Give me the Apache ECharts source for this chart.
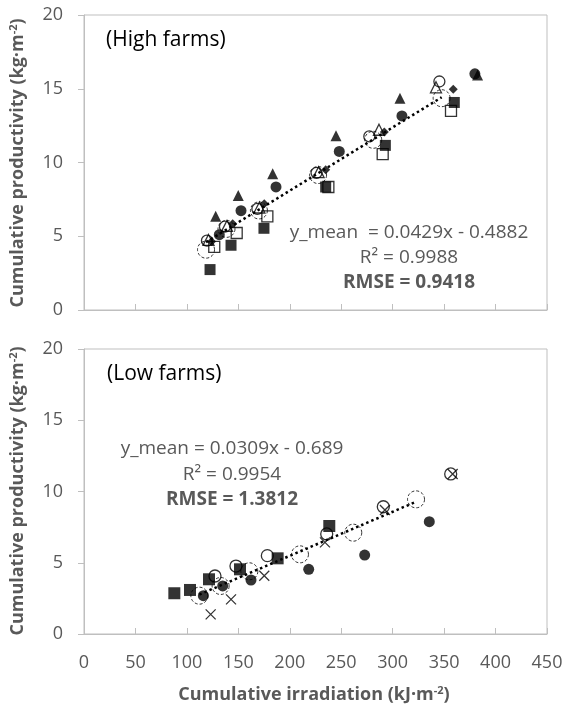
<!DOCTYPE html>
<html>
<head>
<meta charset="utf-8">
<title>Cumulative productivity vs irradiation</title>
<script src="https://cdn.jsdelivr.net/npm/echarts@6/dist/echarts.min.js"></script>
<style>
  html, body { margin: 0; padding: 0; background: #fff; }
  #main { width: 566px; height: 711px; }
</style>
</head>
<body>
<div id="main"></div>
<script>
// ---- data ----
var xTicks = [0, 50, 100, 150, 200, 250, 300, 350, 400, 450];
var yTicks = [0, 5, 10, 15, 20];

// High farms
var hiTriFill = [[128, 6.35], [149.9, 7.77], [183.4, 9.24], [244.9, 11.81], [307.1, 14.36], [382.5, 15.94]];
var hiCircFill = [[131.5, 5.11], [152.6, 6.73], [186.6, 8.34], [248.1, 10.75], [309, 13.16], [379.9, 16.01]];
var hiCircOpen = [[119.5, 4.7], [137, 5.65], [168.5, 6.85], [226, 9.3], [277.3, 11.77], [345.4, 15.49]];
var hiTriOpen = [[121, 4.75], [139, 5.7], [170.5, 6.95], [228, 9.35], [286.7, 12.22], [342.1, 15.1]];
var hiDiamond = [[124, 4.65], [144.5, 5.85], [175.2, 7.21], [234.9, 9.51], [291.9, 12.06], [358.9, 14.97]];
var hiSqFill = [[122.5, 2.74], [142.9, 4.39], [174.9, 5.54], [234.9, 8.34], [292.9, 11.16], [359.9, 14.07]];
var hiSqOpen = [[126.6, 4.28], [148.4, 5.22], [178.2, 6.35], [237.5, 8.34], [290.3, 10.57], [356.7, 13.5]];
var hiMean = [[118.6, 4.09], [138.5, 5.5], [170, 6.75], [227.5, 9.15], [281.1, 11.54], [347.6, 14.36]];
var hiTrend = [[118.6, 4.6], [347.6, 14.42]];

// Low farms
var loSqFill = [[87.8, 2.86], [103, 3.09], [121.5, 3.84], [151.6, 4.54], [188.2, 5.31], [238.4, 7.58]];
var loCircFill = [[116, 2.69], [134.8, 3.37], [162.3, 3.79], [218.4, 4.54], [272.8, 5.54], [335.6, 7.88]];
var loCircOpen = [[127.3, 4.07], [147.7, 4.77], [178.2, 5.5], [235.9, 7.02], [290.9, 8.93], [356.4, 11.23]];
var loCross = [[123.1, 1.38], [142.9, 2.43], [175.2, 4.09], [234.2, 6.43], [292.5, 8.7], [358.3, 11.23]];
var loMean = [[112.1, 2.69], [132.8, 3.37], [160.7, 4.4], [209.9, 5.59], [261.7, 7.11], [322.7, 9.45]];
var loTrend = [[112.1, 2.77], [322.7, 9.28]];

var gray = '#595959';
var lineGray = '#bfbfbf';
var fontFam = 'Open Sans';

var myChart = echarts.init(document.getElementById('main'));

function pts(name, data, idx, symbol, size, filled, extra) {
    var s = {
        name: name,
        type: 'scatter',
        xAxisIndex: idx,
        yAxisIndex: idx,
        data: data,
        symbol: symbol,
        symbolSize: size,
        itemStyle: filled
            ? { color: '#000' }
            : { color: 'rgba(255,255,255,0)', borderColor: '#000', borderWidth: 1.3 },
        emphasis: { disabled: true },
        z: 3
    };
    if (extra) {
        for (var k in extra) s[k] = extra[k];
    }
    return s;
}

function trend(data, idx) {
    return {
        type: 'line',
        xAxisIndex: idx,
        yAxisIndex: idx,
        data: data,
        symbol: 'none',
        lineStyle: { color: '#000', width: 2.5, type: [2.5, 3] },
        z: 4
    };
}

var dashedCircle = { color: 'rgba(255,255,255,0)', borderColor: '#000', borderWidth: 1, borderType: [3, 2] };
var crossPath = 'path://M0,0L10,10M10,0L0,10';

function xAxisCfg(idx, showLabels) {
    return {
        type: 'value',
        gridIndex: idx,
        min: 0, max: 450, interval: 50,
        axisLine: { show: true, lineStyle: { color: lineGray, width: 1 } },
        axisTick: { show: true, inside: true, length: 6, lineStyle: { color: lineGray } },
        axisLabel: { show: showLabels, color: gray, fontSize: 18, fontFamily: fontFam, margin: 20 },
        splitLine: { show: false }
    };
}

function yAxisCfg(idx) {
    return {
        type: 'value',
        gridIndex: idx,
        min: 0, max: 20, interval: 5,
        axisLine: { show: true, lineStyle: { color: lineGray, width: 1 } },
        axisTick: { show: true, inside: false, length: 6, lineStyle: { color: lineGray } },
        axisLabel: { color: gray, fontSize: 18, fontFamily: fontFam, margin: 21 },
        splitLine: { show: false }
    };
}

var titleRich = {
    b: { fontSize: 18, fontWeight: 'bold', fill: gray, fontFamily: fontFam },
    sup: { fontSize: 11, fontWeight: 'bold', fill: gray, fontFamily: fontFam, verticalAlign: 'bottom', padding: [0, 0, 9, 0] }
};

function eqText(x, y, text, bold) {
    return {
        type: 'text', x: x, y: y,
        style: {
            text: text, fill: gray, fontSize: 19, fontFamily: fontFam,
            fontWeight: bold ? 'bold' : 'normal', textAlign: 'center', textVerticalAlign: 'middle'
        }
    };
}

var option = {
    animation: false,
    grid: [
        { left: 84, top: 15, right: 19, height: 295, show: true, borderColor: lineGray, borderWidth: 1 },
        { left: 84, top: 349, right: 19, height: 285, show: true, borderColor: lineGray, borderWidth: 1 }
    ],
    xAxis: [xAxisCfg(0, false), xAxisCfg(1, true)],
    yAxis: [yAxisCfg(0), yAxisCfg(1)],
    series: [
        trend(hiTrend, 0),
        pts('hiMean', hiMean, 0, 'circle', 17, false, { itemStyle: dashedCircle }),
        pts('hiSqFill', hiSqFill, 0, 'rect', 11, true),
        pts('hiSqOpen', hiSqOpen, 0, 'rect', 11, false),
        pts('hiCircOpen', hiCircOpen, 0, 'circle', 11, false),
        pts('hiTriOpen', hiTriOpen, 0, 'triangle', 11, false),
        pts('hiDiamond', hiDiamond, 0, 'diamond', 9, true),
        pts('hiCircFill', hiCircFill, 0, 'circle', 11, true),
        pts('hiTriFill', hiTriFill, 0, 'triangle', 11, true),

        trend(loTrend, 1),
        pts('loMean', loMean, 1, 'circle', 17, false, { itemStyle: dashedCircle }),
        pts('loSqFill', loSqFill, 1, 'rect', 12, true),
        pts('loCircFill', loCircFill, 1, 'circle', 11, true),
        pts('loCircOpen', loCircOpen, 1, 'circle', 12, false),
        pts('loCross', loCross, 1, crossPath, 10, false, {
            itemStyle: { color: 'rgba(255,255,255,0)', borderColor: '#000', borderWidth: 1.3 }
        })
    ],
    graphic: [
        { type: 'text', x: 106, y: 30, style: { text: '(High farms)', fill: '#000', fontSize: 21, fontFamily: fontFam } },
        { type: 'text', x: 107, y: 364, style: { text: '(Low farms)', fill: '#000', fontSize: 21, fontFamily: fontFam } },

        eqText(409, 233, 'y_mean  = 0.0429x - 0.4882', false),
        eqText(409, 258, 'R² = 0.9988', false),
        eqText(409, 283, 'RMSE = 0.9418', true),

        eqText(232, 449, 'y_mean = 0.0309x - 0.689', false),
        eqText(232, 475, 'R² = 0.9954', false),
        eqText(232, 500, 'RMSE = 1.3812', true),

        {
            type: 'text', x: 18, y: 163, rotation: Math.PI / 2,
            style: { text: '{b|Cumulative productivity (kg·m}{sup|-2}{b|)}', rich: titleRich, textAlign: 'center', textVerticalAlign: 'middle' }
        },
        {
            type: 'text', x: 18, y: 491, rotation: Math.PI / 2,
            style: { text: '{b|Cumulative productivity (kg·m}{sup|-2}{b|)}', rich: titleRich, textAlign: 'center', textVerticalAlign: 'middle' }
        },
        {
            type: 'text', x: 314, y: 695,
            style: { text: '{b|Cumulative irradiation (kJ·m}{sup|-2}{b|)}', rich: titleRich, textAlign: 'center', textVerticalAlign: 'middle' }
        }
    ]
};

myChart.setOption(option);
</script>
</body>
</html>
